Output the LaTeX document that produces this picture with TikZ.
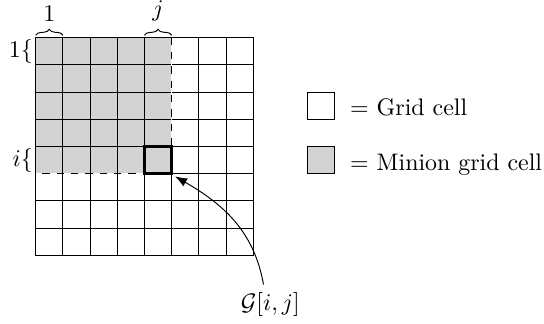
\documentclass[tikz,border=0pt]{standalone}
\usetikzlibrary{decorations.pathreplacing, arrows.meta}
\definecolor{miniongray}{RGB}{211,211,211}
\tikzset{
	cellbox/.style={draw, minimum size=0.4cm, inner sep=0pt, outer sep=0pt},
	topbrace/.style={decorate, decoration={brace, amplitude=2.5pt, raise=1pt}},
}
\begin{document}
\begin{tikzpicture}[>={Latex[length=5pt, width=3.8pt]}]
		\useasboundingbox (-0.525,0.554) rectangle (7.475,-4.196);
		
		% Minion area and grid
		\fill[miniongray] (0,0) rectangle (2,-2);
		\draw[step=0.4cm] (0,-3.2) grid (3.2,0);
		\draw (0,0) rectangle (3.2,-3.2);
		\draw[white, line width=0.6pt] (2,0) -- (2,-2) -- (0,-2);
		\draw[dashed] (2,0) -- (2,-2) -- (0,-2);
		
		% Target cell
		\node[cellbox, fill=miniongray, very thick] (gij) at (1.8,-1.8) {};
		
		% Column and row labels
		\draw[topbrace] (0,0) -- (0.4,0) node[midway, above=3.2pt] (col1) {$1$};
		\draw[topbrace] (1.6,0) -- (2.0,0) node[midway, above=3.2pt] (colj) {$j$};
		\node[anchor=east, inner sep=1pt] (row1) at (0,-0.2) {$1\{$};
		\node[anchor=east, inner sep=1pt] (rowi) at (0,-1.8) {$i\{$};
		
		% Legend
		\node[cellbox] (plain) at (4.2,-1.0) {};
		\node[cellbox, fill=miniongray] (minion) at (4.2,-1.8) {};
		\node[anchor=base west] (plaintxt) at (4.5,-1.15) {$=$ Grid cell};
		\node[anchor=base west] (miniontxt) at (4.5,-1.95) {$=$ Minion grid cell};
		
		% Label and arrow
		\node (glabel) at (3.45,-3.93) {$\mathcal{G}[i,j]$};
		\draw[->] ([xshift=-0.1cm]glabel.north) to[out=100, in=-30] ([shift={(0.05,-0.04)}]gij.south east);
		
	\end{tikzpicture}
\end{document}
